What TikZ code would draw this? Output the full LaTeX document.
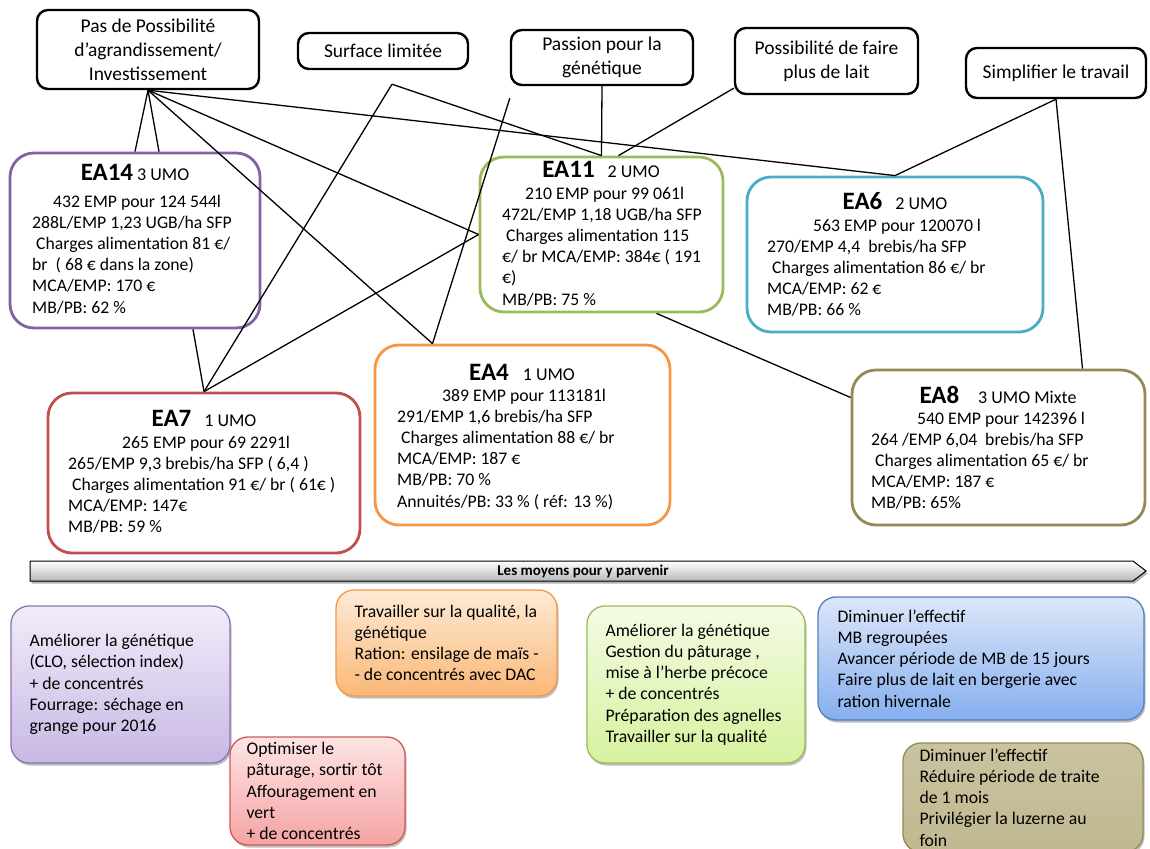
\documentclass[tikz,border=0pt]{standalone}
\usepackage{fontspec}
\setmainfont{Carlito}
\usetikzlibrary{shadows}

% frame colours of the farm boxes
\definecolor{eaPurple}{RGB}{128,100,162}
\definecolor{eaGreen}{RGB}{155,187,89}
\definecolor{eaBlue}{RGB}{75,172,198}
\definecolor{eaRed}{RGB}{192,80,77}
\definecolor{eaOrange}{RGB}{247,150,70}
\definecolor{eaOlive}{RGB}{148,138,84}
% gradient colours of the action boxes
\definecolor{pTop}{RGB}{241,236,250}\definecolor{pBot}{RGB}{200,184,228}\definecolor{pLine}{RGB}{140,115,180}
\definecolor{oTop}{RGB}{254,234,214}\definecolor{oBot}{RGB}{250,184,118}\definecolor{oLine}{RGB}{247,150,70}
\definecolor{rTop}{RGB}{254,228,228}\definecolor{rBot}{RGB}{245,163,163}\definecolor{rLine}{RGB}{205,90,88}
\definecolor{gTop}{RGB}{244,251,228}\definecolor{gBot}{RGB}{214,242,158}\definecolor{gLine}{RGB}{155,187,89}
\definecolor{bTop}{RGB}{220,231,249}\definecolor{bBot}{RGB}{134,174,238}\definecolor{bLine}{RGB}{79,129,189}
\definecolor{kTop}{RGB}{202,195,160}\definecolor{kBot}{RGB}{192,184,144}\definecolor{kLine}{RGB}{148,138,84}

\tikzset{
  topbox/.style={draw=black, line width=2.4pt, rounded corners=11pt, fill=white,
    align=center, inner sep=0pt, font=\fontsize{19.5}{24}\selectfont},
  eabox/.style={draw=#1, line width=2.8pt, rounded corners=24pt, fill=white, inner sep=0pt},
  eatitle/.style={anchor=base, inner sep=0pt, font=\fontsize{18}{21}\selectfont},
  % the base of a multi-line body is the baseline of its last line
  eabody/.style={anchor=base west, inner sep=0pt, align=left, font=\fontsize{17.7}{21.2}\selectfont},
  ideabox/.style n args={3}{draw=#1, line width=1.3pt, rounded corners=18pt,
    top color=#2, bottom color=#3, inner sep=0pt,
    drop shadow={shadow xshift=1.5pt, shadow yshift=-2.5pt, opacity=0.25, fill=black}},
  ideatext/.style={anchor=west, inner sep=0pt, align=left, font=\fontsize{17.7}{21.2}\selectfont},
  link/.style={draw=black, line width=1.3pt},
}
\newcommand{\eaname}[1]{{\fontsize{25}{30}\selectfont\bfseries #1}}

\begin{document}
\begin{tikzpicture}[x=1pt, y=-1pt]
\useasboundingbox (0,0) rectangle (1150,848);

% ---- motivations -------------------------------------------------------
\node[topbox, minimum width=222pt, minimum height=79pt] (t1) at (148,49.5)
  {Pas de Possibilité\\d’agrandissement/\\Investissement};
\node[topbox, minimum width=170pt, minimum height=36pt] (t2) at (383,51)
  {Surface limitée};
\node[topbox, minimum width=182pt, minimum height=55pt] (t3) at (602,57.5)
  {Passion pour la\\génétique};
\node[topbox, minimum width=183pt, minimum height=66pt] (t4) at (826.5,61)
  {Possibilité de faire\\plus de lait};
\node[topbox, minimum width=180pt, minimum height=50pt] (t5) at (1056,73)
  {Simplifier le travail};

% ---- farms --------------------------------------------------------------
\node[eabox=eaPurple, minimum width=250pt, minimum height=175pt] (ea14) at (135,240.5) {};
\node[eatitle] (ea14t) at (135,180) {\eaname{EA14} 3 UMO};
\node[eabody] (ea14b) at (32,313) {\hspace*{21pt}432 EMP pour 124 544l\\
  288L/EMP 1,23 UGB/ha SFP\\
  \hspace*{4pt}Charges alimentation 81 €/\\
  br\ \ ( 68 € dans la zone)\\
  MCA/EMP: 170 €\\
  MB/PB: 62 \%};

\node[eabox=eaGreen, minimum width=243pt, minimum height=155pt] (ea11) at (601.5,234.5) {};
\node[eatitle] (ea11t) at (601,177) {\eaname{EA11}\hspace{13pt}2 UMO};
\node[eabody] (ea11b) at (502,305) {\hspace*{23pt}210 EMP pour 99 061l\\
  472L/EMP 1,18 UGB/ha SFP\\
  \hspace*{4pt}Charges alimentation 115\\
  €/ br MCA/EMP: 384€ ( 191\\
  €)\\
  MB/PB: 75 \%};

\node[eabox=eaBlue, minimum width=296pt, minimum height=155pt] (ea6) at (895,254.5) {};
\node[eatitle] (ea6t) at (895,209) {\eaname{EA6}\hspace{13pt}2 UMO};
\node[eabody] (ea6b) at (767,315.8) {\hspace*{46pt}563 EMP pour 120070 l\\
  270/EMP 4,4\ \ brebis/ha SFP\\
  \hspace*{5pt}Charges alimentation 86 €/ br\\
  MCA/EMP: 62 €\\
  MB/PB: 66 \%};

\node[eabox=eaRed, minimum width=312pt, minimum height=160pt] (ea7) at (204,473) {};
\node[eatitle] (ea7t) at (204,426) {\eaname{EA7}\hspace{13pt}1 UMO};
\node[eabody] (ea7b) at (68,532.8) {\hspace*{54pt}265 EMP pour 69 2291l\\
  265/EMP 9,3 brebis/ha SFP ( 6,4 )\\
  \hspace*{4pt}Charges alimentation 91 €/ br ( 61€ )\\
  MCA/EMP: 147€\\
  MB/PB: 59 \%};

\node[eabox=eaOrange, minimum width=295pt, minimum height=180pt] (ea4) at (522.5,435) {};
\node[eatitle] (ea4t) at (522,380) {\eaname{EA4}\hspace{14pt}1 UMO};
\node[eabody] (ea4b) at (397,507) {\hspace*{45pt}389 EMP pour 113181l\\
  291/EMP 1,6 brebis/ha SFP\\
  \hspace*{4pt}Charges alimentation 88 €/ br\\
  MCA/EMP: 187 €\\
  MB/PB: 70 \%\\
  Annuités/PB: 33 \% ( réf: 13 \%)};

\node[eabox=eaOlive, minimum width=293pt, minimum height=155pt] (ea8) at (998.5,447.5) {};
\node[eatitle] (ea8t) at (998,403) {\eaname{EA8}\hspace{19pt}3 UMO Mixte};
\node[eabody] (ea8b) at (871,508.8) {\hspace*{46pt}540 EMP pour 142396 l\\
  264 /EMP 6,04\ \ brebis/ha SFP\\
  \hspace*{4pt}Charges alimentation 65 €/ br\\
  MCA/EMP: 187 €\\
  MB/PB: 65\%};

% ---- links between motivations and farms ---------------------------------
\coordinate (t2foot) at ([xshift=9pt, yshift=-14pt]t2.south);
\coordinate (t3foot) at ([yshift=-12pt]t3.south west);
\draw[link] (t1.south) -- (ea14.north);
\draw[link] (t1.south) -- ([xshift=24pt]ea14.north);
\draw[link] (t1.south) -- ([xshift=-90pt]ea4.north);
\draw[link] (t1.south) -- (ea11.west);
\draw[link] (t1.south) -- (ea6.north);
\draw[link] (t2foot) -- (ea7.north);
\draw[link] (t2foot) -- (ea11.north);
\draw[link] (t3.south) -- (ea11.north);
\draw[link] (t3foot) -- ([xshift=-90pt]ea4.north);
\draw[link] ([yshift=7pt]t4.south west) -- ([xshift=17pt]ea11.north);
\draw[link] (t5.south) -- (ea6.north);
\draw[link] (t5.south) -- ([xshift=84pt]ea8.north);
\draw[link] ([xshift=58pt]ea14.south) -- (ea7.north);
\draw[link] (ea11.west) -- (ea7.north);
\draw[link] ([xshift=55pt]ea11.south) -- ([yshift=50pt]ea8.west);

% ---- banner -------------------------------------------------------------
\path[draw=black, line width=1pt, top color=white, bottom color=black!28,
  drop shadow={shadow xshift=1.5pt, shadow yshift=-2.5pt, opacity=0.3, fill=black}]
  (30,561) -- (1133,561) -- (1146,571) -- (1133,581) -- (30,581) -- cycle;
\node[inner sep=0pt, font=\fontsize{15}{18}\selectfont\bfseries] (moyens) at (583,571)
  {Les moyens pour y parvenir};

% ---- actions ------------------------------------------------------------
\node[ideabox={pLine}{pTop}{pBot}, minimum width=219pt, minimum height=157pt] (a14) at (120.5,684.5) {};
\node[ideatext] (a14t) at ([xshift=19pt]a14.west) {Améliorer la génétique\\
  (CLO, sélection index)\\
  + de concentrés\\
  Fourrage: séchage en\\
  grange pour 2016};

\node[ideabox={oLine}{oTop}{oBot}, minimum width=221pt, minimum height=106pt] (a4) at (446.5,643) {};
\node[ideatext] (a4t) at ([xshift=19pt]a4.west) {Travailler sur la qualité, la\\
  génétique\\
  Ration: ensilage de maïs -\\
  - de concentrés avec DAC};

\node[ideabox={rLine}{rTop}{rBot}, minimum width=175pt, minimum height=108pt] (a7) at (317.5,791) {};
\node[ideatext] (a7t) at ([xshift=17pt]a7.west) {Optimiser le\\
  pâturage, sortir tôt\\
  Affouragement en\\
  vert\\
  + de concentrés};

\node[ideabox={gLine}{gTop}{gBot}, minimum width=218pt, minimum height=157pt] (a11) at (696,684.5) {};
\node[ideatext] (a11t) at ([xshift=19pt]a11.west) {Améliorer la génétique\\
  Gestion du pâturage ,\\
  mise à l’herbe précoce\\
  + de concentrés\\
  Préparation des agnelles\\
  Travailler sur la qualité};

\node[ideabox={bLine}{bTop}{bBot}, minimum width=326pt, minimum height=123pt] (a6) at (981,658.5) {};
\node[ideatext] (a6t) at ([xshift=20pt]a6.west) {Diminuer l’effectif\\
  MB regroupées\\
  Avancer période de MB de 15 jours\\
  Faire plus de lait en bergerie avec\\
  ration hivernale};

\node[ideabox={kLine}{kTop}{kBot}, minimum width=240pt, minimum height=109pt] (a8) at (1023,797.5) {};
\node[ideatext] (a8t) at ([xshift=17pt]a8.west) {Diminuer l’effectif\\
  Réduire période de traite\\
  de 1 mois\\
  Privilégier la luzerne au\\
  foin};
\end{tikzpicture}
\end{document}
